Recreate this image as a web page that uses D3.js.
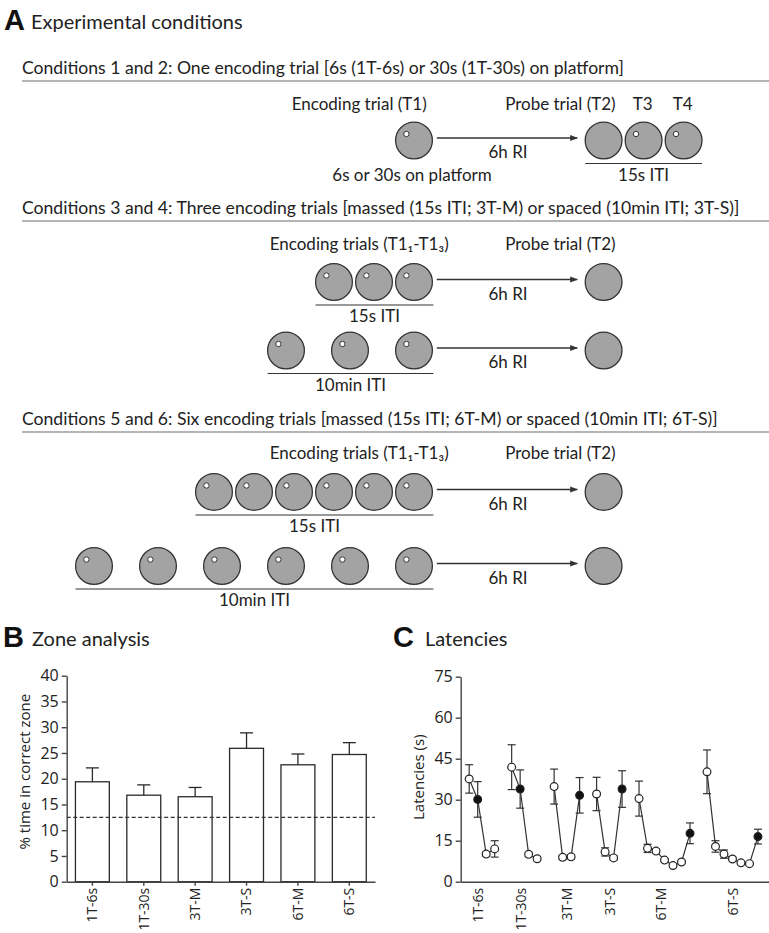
<!DOCTYPE html>
<html>
<head>
<meta charset="utf-8">
<script src="https://cdn.jsdelivr.net/npm/d3@7"></script>
<style>
  html, body { margin: 0; padding: 0; background: #fff; }
  svg { display: block; }
  .sans { font-family: Lato, "Open Sans", sans-serif; fill: #222; }
  .axis text { font-family: "Open Sans", sans-serif; fill: #222; }
</style>
</head>
<body>
<svg id="fig" width="769" height="933"></svg>
<script>
// ---------------- DATA ----------------
// Panel A : experimental conditions diagram
const panelATitle = "Experimental conditions";
const conditionHeaders = [
  "Conditions 1 and 2: One encoding trial [6s (1T-6s) or 30s (1T-30s) on platform]",
  "Conditions 3 and 4: Three encoding trials [massed (15s ITI; 3T-M) or spaced (10min ITI; 3T-S)]",
  "Conditions 5 and 6: Six encoding trials [massed (15s ITI; 6T-M) or spaced (10min ITI; 6T-S)]"
];
const encodingLabels = ["Encoding trial (T1)", "Encoding trials (T1\u2081-T1\u2083)", "Encoding trials (T1\u2081-T1\u2083)"];
const probeLabels = ["Probe trial (T2)", "Probe trial (T2)", "Probe trial (T2)"];
const extraProbeLabels = ["T3", "T4"];
const rowCondition = [0, 1, 1, 2, 2];
const rowEncodingTrials = [1, 3, 3, 6, 6];
const rowSpaced = [false, false, true, false, true];
const rowIntervalLabel = ["15s ITI", "15s ITI", "10min ITI", "15s ITI", "10min ITI"];
const rowProbeTrials = [3, 1, 1, 1, 1];
const retentionLabel = "6h RI";
const platformNote = "6s or 30s on platform";

// Panel B : zone analysis
const zoneTitle = "Zone analysis";
const zoneCategories = ["1T-6s", "1T-30s", "3T-M", "3T-S", "6T-M", "6T-S"];
const zoneMeans = [19.4, 16.8, 16.5, 25.9, 22.7, 24.7];
const zoneSEM = [2.7, 2.0, 1.8, 3.0, 2.1, 2.3];
const zoneChance = 12.5;
const zoneTicks = [0, 5, 10, 15, 20, 25, 30, 35, 40];
const zoneYLabel = "% time in correct zone";

// Panel C : latencies
const latencyTitle = "Latencies";
const latencyGroups = ["1T-6s", "1T-30s", "3T-M", "3T-S", "6T-M", "6T-S"];
const latencyMeans = [
  [37.6, 30.1, 10.1, 12.0],
  [41.9, 33.9, 10.0, 8.4],
  [34.8, 8.9, 9.1, 31.6],
  [32.1, 10.9, 8.7, 33.9],
  [30.4, 12.2, 11.2, 7.9, 5.9, 7.2, 17.7],
  [40.2, 12.9, 10.1, 8.3, 6.9, 6.6, 16.5]
];
const latencySEM = [
  [5.2, 6.5, 0.8, 3.0],
  [8.2, 7.0, 0.8, 0.6],
  [6.4, 0.8, 0.8, 6.5],
  [6.1, 1.5, 0.8, 6.7],
  [6.4, 1.5, 0.8, 0.6, 0.5, 0.6, 3.8],
  [8.0, 2.1, 1.5, 0.6, 0.5, 0.5, 2.7]
];
const latencyProbeIndex = [1, 1, 3, 3, 6, 6];   // filled symbol = probe trial T2
const latencyLabelSlots = [1, 6, 11.5, 16.5, 22.5, 31];
const latencyTicks = [0, 15, 30, 45, 60, 75];
const latencyYLabel = "Latencies (s)";

// ---------------- DRAWING ----------------
const svg = d3.select("#fig");
const ink = "#2a2a2a";
const fsA = "17px";

function panelLetter(letter, x, y, title, tx) {
  svg.append("text").attr("x", x).attr("y", y)
    .style("font-family", "'Liberation Sans', Arial, sans-serif").style("font-weight", "bold")
    .style("font-size", "29px").attr("fill", "#111").text(letter);
  svg.append("text").attr("class", "sans").attr("x", tx).attr("y", y - 1)
    .style("font-size", "20px").text(title);
}

// ===== Panel A =====
panelLetter("A", 4, 30, panelATitle, 31);

const headerY = [74, 214, 425];
const rowY = [140.5, 282, 350.5, 492, 566];
const headerLabelY = [110, 250, 459];

// horizontal slot scale: 1 unit = one massed inter-trial step
const xA = d3.scaleLinear().domain([0, 1]).range([414, 454]);
const spacedStep = 1.6;
const probeUnit = 4.74;
const arrowFrom = 0.57, arrowTo = 4.08;
const rA = 18.4;

svg.append("defs").append("marker")
  .attr("id", "arrow").attr("viewBox", "0 0 10 10").attr("refX", 9).attr("refY", 5)
  .attr("markerWidth", 6).attr("markerHeight", 6).attr("orient", "auto")
  .append("path").attr("d", "M0,1 L10,5 L0,9 Z").attr("fill", "#333");

conditionHeaders.forEach((h, i) => {
  svg.append("text").attr("class", "sans").attr("x", 22).attr("y", headerY[i])
    .style("font-size", "17.6px").text(h);
  svg.append("line").attr("x1", 22).attr("x2", 769)
    .attr("y1", headerY[i] + 7).attr("y2", headerY[i] + 7)
    .attr("stroke", "#9c9c9c").attr("stroke-width", 1.5);
  svg.append("text").attr("class", "sans").attr("x", xA(-1.37)).attr("y", headerLabelY[i])
    .attr("text-anchor", "middle").style("font-size", fsA).text(encodingLabels[i]);
  svg.append("text").attr("class", "sans").attr("x", xA(3.66)).attr("y", headerLabelY[i])
    .attr("text-anchor", "middle").style("font-size", fsA).text(probeLabels[i]);
});
extraProbeLabels.forEach((t, j) => {
  svg.append("text").attr("class", "sans").attr("x", xA(probeUnit + 1 + j) - 1).attr("y", headerLabelY[0])
    .attr("text-anchor", "middle").style("font-size", fsA).text(t);
});

function trialCircle(cx, cy, withDot) {
  svg.append("circle").attr("cx", cx).attr("cy", cy).attr("r", rA)
    .attr("fill", "#a3a3a3").attr("stroke", "#333").attr("stroke-width", 1.3);
  if (withDot) {
    svg.append("circle").attr("cx", cx - 7.6).attr("cy", cy - 6.5).attr("r", 2.7)
      .attr("fill", "#fff").attr("stroke", "#333").attr("stroke-width", 1);
  }
}

rowEncodingTrials.forEach((n, r) => {
  const cy = rowY[r];
  const step = rowSpaced[r] ? spacedStep : 1;
  const units = d3.range(n).map(i => -(n - 1 - i) * step);
  units.forEach(u => trialCircle(xA(u), cy, true));
  // arrow
  svg.append("line").attr("x1", xA(arrowFrom)).attr("x2", xA(arrowTo))
    .attr("y1", cy - 2.5).attr("y2", cy - 2.5)
    .attr("stroke", "#333").attr("stroke-width", 1.3).attr("marker-end", "url(#arrow)");
  svg.append("text").attr("class", "sans").attr("x", xA(2.35)).attr("y", cy + 17.5)
    .attr("text-anchor", "middle").style("font-size", fsA).text(retentionLabel);
  // probe circles
  const pUnits = d3.range(rowProbeTrials[r]).map(i => probeUnit + i);
  pUnits.forEach((u, i) => trialCircle(xA(u), cy, i > 0));
  // interval underline
  let ux0, ux1;
  if (r === 0) { ux0 = xA(pUnits[0]) - rA; ux1 = xA(pUnits[pUnits.length - 1]) + rA; }
  else { ux0 = xA(units[0]) - rA; ux1 = xA(0) + rA + 1; }
  svg.append("line").attr("x1", ux0).attr("x2", ux1).attr("y1", cy + 23).attr("y2", cy + 23)
    .attr("stroke", "#333").attr("stroke-width", 1.2);
  svg.append("text").attr("class", "sans").attr("x", (ux0 + ux1) / 2).attr("y", cy + 40)
    .attr("text-anchor", "middle").style("font-size", fsA).text(rowIntervalLabel[r]);
  if (r === 0) {
    svg.append("text").attr("class", "sans").attr("x", xA(-0.05)).attr("y", cy + 40)
      .attr("text-anchor", "middle").style("font-size", fsA).text(platformNote);
  }
});

// ===== Panel B =====
panelLetter("B", 3, 647, zoneTitle, 32);

const yB = d3.scaleLinear().domain([0, 40]).range([881.7, 675.7]);
const xB = d3.scaleBand().domain(zoneCategories).range([66.7, 375]).paddingInner(0.34).paddingOuter(0.17);

const gB = svg.append("g");
// error bars (upward only)
zoneCategories.forEach((c, i) => {
  const cx = xB(c) + xB.bandwidth() / 2;
  gB.append("line").attr("x1", cx).attr("x2", cx).attr("y1", yB(zoneMeans[i])).attr("y2", yB(zoneMeans[i] + zoneSEM[i]))
    .attr("stroke", ink).attr("stroke-width", 1.3);
  gB.append("line").attr("x1", cx - 6.5).attr("x2", cx + 6.5)
    .attr("y1", yB(zoneMeans[i] + zoneSEM[i])).attr("y2", yB(zoneMeans[i] + zoneSEM[i]))
    .attr("stroke", ink).attr("stroke-width", 1.3);
});
gB.selectAll("rect.bar").data(zoneMeans).join("rect").attr("class", "bar")
  .attr("x", (d, i) => xB(zoneCategories[i])).attr("width", xB.bandwidth())
  .attr("y", d => yB(d)).attr("height", d => yB(0) - yB(d))
  .attr("fill", "#fff").attr("stroke", ink).attr("stroke-width", 1.3);
gB.append("line").attr("x1", 66.7).attr("x2", 375).attr("y1", yB(zoneChance)).attr("y2", yB(zoneChance))
  .attr("stroke", "#333").attr("stroke-width", 1.2).attr("stroke-dasharray", "4,2.5");

const axLB = svg.append("g").attr("class", "axis").attr("transform", "translate(66.7,0)")
  .call(d3.axisLeft(yB).tickValues(zoneTicks).tickSize(5).tickSizeOuter(0).tickPadding(3));
const axBB = svg.append("g").attr("class", "axis").attr("transform", `translate(0,${yB(0)})`)
  .call(d3.axisBottom(xB).tickSize(4).tickSizeOuter(0));
axLB.selectAll("text").style("font-size", "16px");
axBB.selectAll("text").style("font-size", "14px").attr("transform", "rotate(-90)")
  .attr("x", -6).attr("y", 0).attr("dy", "0.35em").style("text-anchor", "end");
[axLB, axBB].forEach(a => {
  a.selectAll("path, line").attr("stroke", "#444").attr("stroke-width", 1.4);
});
svg.append("text").attr("transform", `translate(30,${(yB(0) + yB(40)) / 2 - 7}) rotate(-90)`)
  .attr("text-anchor", "middle").style("font-family", "'Open Sans', sans-serif").style("font-size", "15px")
  .attr("fill", "#222").text(zoneYLabel);

// ===== Panel C =====
panelLetter("C", 393, 647, latencyTitle, 425);

const yC = d3.scaleLinear().domain([0, 75]).range([881.7, 676.7]);
const xC = d3.scaleLinear().domain([-1, 35.3]).range([460.7, 769]);

// slot index for each point: groups separated by one empty slot
const groupStarts = [];
latencyMeans.reduce((acc, g) => { groupStarts.push(acc); return acc + g.length + 1; }, 0);

const gC = svg.append("g");
const line = d3.line().x(d => xC(d.slot)).y(d => yC(d.v));
latencyMeans.forEach((g, gi) => {
  const pts = g.map((v, i) => ({ slot: groupStarts[gi] + i, v, e: latencySEM[gi][i], probe: i === latencyProbeIndex[gi] }));
  gC.append("path").datum(pts).attr("d", line).attr("fill", "none").attr("stroke", "#333").attr("stroke-width", 1.2);
  pts.forEach(p => {
    const cx = xC(p.slot);
    gC.append("line").attr("x1", cx).attr("x2", cx).attr("y1", yC(p.v - p.e)).attr("y2", yC(p.v + p.e))
      .attr("stroke", "#333").attr("stroke-width", 1.2);
    [p.v - p.e, p.v + p.e].forEach(ev => {
      gC.append("line").attr("x1", cx - 4).attr("x2", cx + 4).attr("y1", yC(ev)).attr("y2", yC(ev))
        .attr("stroke", "#333").attr("stroke-width", 1.2);
    });
  });
  pts.forEach(p => {
    gC.append("circle").attr("cx", xC(p.slot)).attr("cy", yC(p.v)).attr("r", 3.9)
      .attr("fill", p.probe ? "#111" : "#fff").attr("stroke", "#222").attr("stroke-width", 1.2);
  });
});

const axLC = svg.append("g").attr("class", "axis").attr("transform", "translate(460.7,0)")
  .call(d3.axisLeft(yC).tickValues(latencyTicks).tickSize(5).tickSizeOuter(0).tickPadding(3));
const axBC = svg.append("g").attr("class", "axis").attr("transform", `translate(0,${yC(0)})`)
  .call(d3.axisBottom(xC).tickValues(latencyLabelSlots).tickFormat((d, i) => latencyGroups[i]).tickSize(0).tickSizeOuter(0));
axLC.selectAll("text").style("font-size", "16px");
axBC.selectAll("text").style("font-size", "14px").attr("transform", "rotate(-90)")
  .attr("x", -6).attr("y", 0).attr("dy", "0.35em").style("text-anchor", "end");
[axLC, axBC].forEach(a => {
  a.selectAll("path, line").attr("stroke", "#444").attr("stroke-width", 1.4);
});
svg.append("text").attr("transform", `translate(424,${(yC(0) + yC(75)) / 2 - 2}) rotate(-90)`)
  .attr("text-anchor", "middle").style("font-family", "'Open Sans', sans-serif").style("font-size", "15px")
  .attr("fill", "#222").text(latencyYLabel);
</script>
</body>
</html>
